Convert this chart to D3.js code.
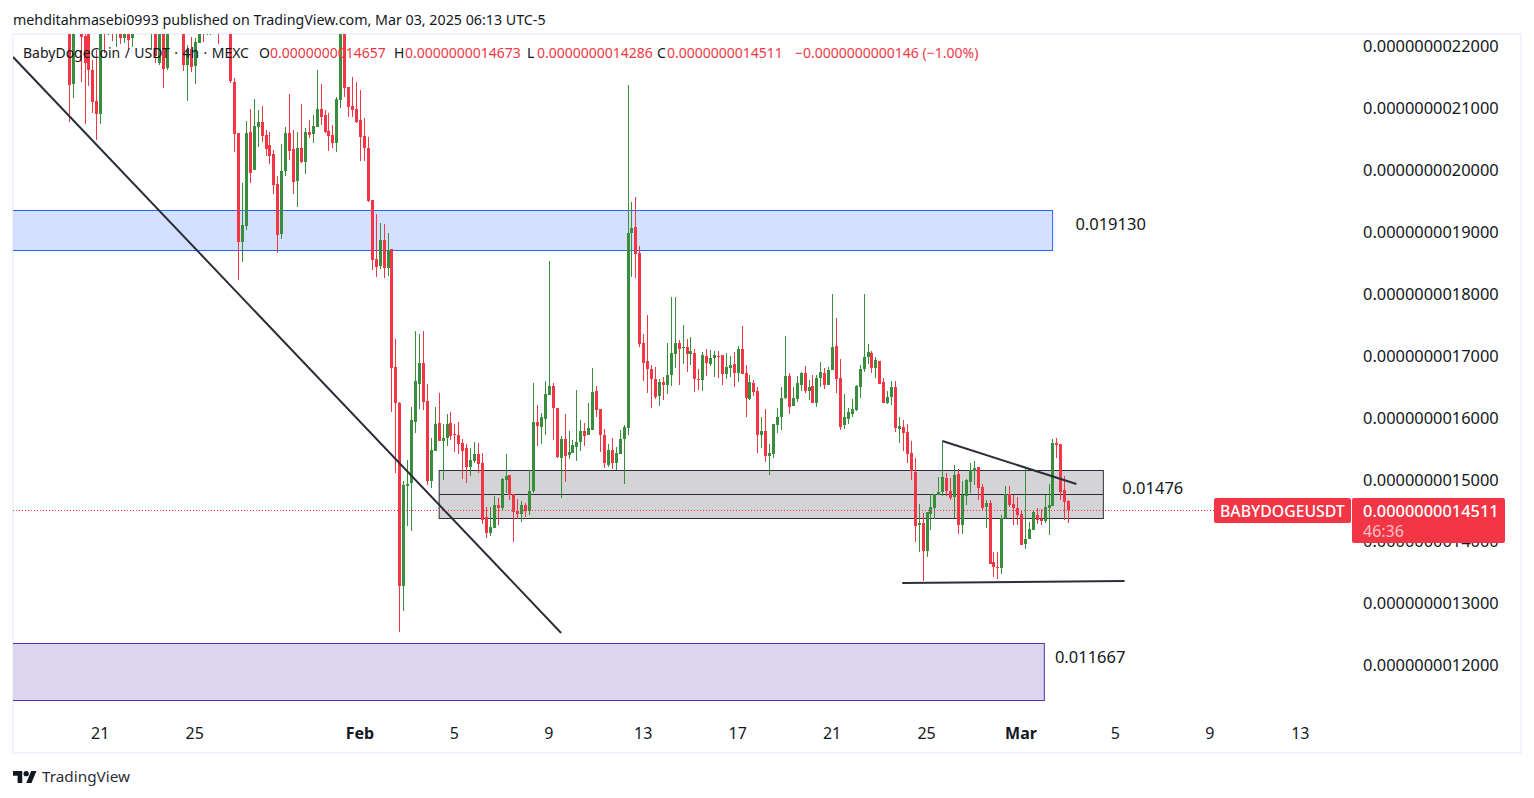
<!DOCTYPE html>
<html>
<head>
<meta charset="utf-8">
<script src="https://cdn.jsdelivr.net/npm/d3@7"></script>
<style>
   html, body { margin: 0; padding: 0; background: #ffffff; overflow: hidden; }
   svg { display: block; font-family: "Noto Sans", sans-serif; }
   .tick text { fill: #131722; }
</style>
</head>
<body>
<svg id="chart" width="1534" height="798"></svg>
<script>
// Prices are in units of 0.0000000000001 USDT, one entry per 4h candle
var opens = [
   22420,21390,22580,22420,22160,22340,21610,21110,20900,22500,
   22260,22500,22290,22340,22130,22340,22130,22340,22500,22340,
   22500,22230,22340,21730,22340,21640,22340,22500,22340,22340,
   21690,21950,21680,22050,22340,22260,22260,22420,22420,22340,
   22500,22340,21420,20590,18830,19090,20610,20000,20690,20770,
   20560,20400,20260,19770,18960,19980,20590,20340,19820,20350,
   20130,20610,20580,20690,20980,20890,20630,20560,20430,21130,
   22340,21340,21030,20980,20800,20550,20350,19510,18560,18450,
   18870,18410,18720,16810,16230,13280,14890,14940,15930,16540,
   16880,16260,14970,15460,15910,15620,15670,15910,15730,15720,
   15590,15510,15200,15300,15410,15260,14390,14130,14210,14580,
   14540,14990,15070,14760,14490,14440,14580,14490,14810,15930,
   15850,15970,16360,16510,16150,15340,15650,15390,15420,15520,
   15600,15780,15720,15800,16430,16130,15720,15230,15470,15260,
   15410,15650,15830,18980,19080,18660,17200,16910,16780,16620,
   16350,16570,16520,16690,17020,17200,17120,17140,17020,17040,
   16620,16600,16990,16860,16960,16990,17010,16700,16800,16860,
   16720,17100,16720,16300,16560,16430,15720,15780,15380,15410,
   15880,16010,16310,16670,16190,16300,16520,16720,16430,16510,
   16230,16640,16720,16520,16770,17150,16640,15880,15970,16050,
   16120,16490,16780,16980,17040,16800,16910,16570,16230,16330,
   16490,15810,15850,15760,15430,15120,14260,14290,13840,14440,
   14540,14750,14800,15020,14810,14710,15080,14260,14730,14960,
   15130,15200,14880,14550,14620,13660,13580,13560,14370,14760,
   14600,14540,14440,13960,14040,14180,14420,14360,14330,14540,
   14570,15590,15570,14830,14657
];
var highs = [
   22580,22580,22660,22580,22340,22420,21770,21940,22420,22580,
   22580,22580,22580,22500,22500,22500,22500,22580,22580,22580,
   22580,22500,22500,22500,22500,22500,22580,22580,22580,22500,
   22020,22150,22130,22420,22500,22500,22500,22500,22500,22580,
   22580,22500,21480,20590,19790,20790,20980,21140,20970,21030,
   20640,20610,20320,19900,20420,20690,21220,20640,20610,21060,
   20680,20800,20890,21610,21390,20970,20920,20720,21180,22500,
   22500,21340,21500,21420,21290,20840,20530,19510,19290,19140,
   19120,18980,18720,17270,16250,14970,15310,16170,17400,17350,
   17400,16540,15670,16170,16400,15890,16060,16090,15890,15930,
   15650,15570,15510,15600,15590,15430,14550,14550,14730,14700,
   15020,15410,15070,14760,14680,14650,14620,15150,16560,16200,
   16070,16590,18530,16560,16150,15700,16060,15780,15640,16440,
   15960,15910,16230,16800,16510,16130,15810,15570,15670,15520,
   15800,15880,21370,19480,19560,18770,17350,17650,16850,16810,
   16620,16650,17200,17940,17940,17250,17490,17270,17300,17100,
   16780,17060,17100,17090,17070,17070,17010,17040,16990,17060,
   17150,17480,16850,16690,16600,16490,16010,16130,15570,15890,
   16150,16490,17320,16720,16490,16670,16730,16830,16600,16690,
   16690,16900,16800,16810,17990,17610,16940,16380,16150,16300,
   16520,16850,17990,17190,17070,16980,16910,16640,16430,16590,
   16590,16000,15960,15890,15620,15340,14600,14460,14470,14760,
   14760,15040,15600,15100,15020,15230,15170,14970,15000,15260,
   15290,15200,14930,14670,14670,13830,13830,14420,14890,14890,
   14750,14710,14500,15180,14310,14490,14540,14520,14750,14920,
   15650,15670,15570,15050,14673
];
var lows = [
   20770,21160,22260,21420,20740,21350,20920,20480,20740,21890,
   22180,22080,21980,22030,22050,21950,21980,22260,22260,22260,
   22260,21940,21730,21690,21320,21610,22260,22260,22260,21600,
   21110,21580,21390,22050,22070,22180,22180,22230,22030,22260,
   22260,21400,20290,18220,18510,19030,19790,19990,20370,20450,
   20220,20090,19610,18660,18880,19900,20160,19610,19400,20110,
   19930,20510,20430,20690,20720,20590,20300,20350,20290,21000,
   21180,20850,20850,20760,20140,20140,19480,18380,18270,18400,
   18250,18280,16090,15100,12530,12870,14240,14170,15750,16130,
   16120,14910,14860,15460,15620,14990,15540,15630,15440,15410,
   15000,14940,15050,15260,15100,14280,14050,14080,14210,14260,
   14500,14780,14670,13990,14360,14310,14390,14420,14780,15540,
   15570,15720,16360,15630,15340,14700,14960,15330,15420,15300,
   15460,15540,15720,15800,16000,15440,15180,15200,15170,15150,
   15410,14920,15720,18270,18250,17140,16590,16390,16150,16300,
   16190,16280,16380,16510,16800,16520,16860,16730,16850,16410,
   16440,16430,16670,16830,16650,16640,16520,16620,16650,16490,
   16570,16700,16000,16280,16350,15430,15500,15280,15070,15340,
   15750,15800,16300,16060,16190,16250,16430,16390,16280,16230,
   16170,16490,16460,16520,16770,16390,15800,15810,15890,16010,
   16100,16310,16730,16860,16720,16640,16540,16230,16220,16200,
   15760,15590,15460,15260,14990,13990,13830,13360,13740,14180,
   14360,14750,14730,14730,14670,14370,14120,14120,14590,14780,
   14910,14670,14490,14210,13630,13420,13390,13470,14360,14550,
   14260,14260,13940,13880,14040,14180,14280,14260,14300,14100,
   14570,15340,14670,14340,14286
];
var closes = [
   21370,22420,22340,22150,21730,21610,21100,20900,22340,22260,
   22420,22260,22420,22130,22340,22100,22340,22500,22340,22500,
   22340,22340,21840,22340,21630,22340,22500,22340,22500,21690,
   21940,21660,22070,22340,22210,22420,22420,22260,22260,22500,
   22340,21430,20580,18830,19110,20590,19950,20710,20770,20550,
   20340,20220,19750,18950,19980,20590,20300,19800,20350,20130,
   20610,20560,20710,20980,20850,20610,20550,20430,21140,22340,
   21320,21010,20970,20770,20530,20350,19500,18540,18430,18870,
   18410,18700,16800,16230,13280,14910,14920,15960,16590,16880,
   16250,14970,15470,15890,15620,15670,15890,15700,15720,15570,
   15460,15200,15310,15410,15250,14340,14130,14230,14580,14540,
   15000,15050,14750,14470,14440,14580,14490,14810,15930,15860,
   16000,16380,16510,16150,15360,15650,15380,15440,15550,15600,
   15780,15700,15830,16410,16120,15720,15260,15470,15260,15430,
   15650,15850,18980,19060,18640,17190,16880,16780,16620,16330,
   16570,16520,16690,17040,17200,17100,17140,17020,17070,16620,
   16600,17010,16880,16960,17010,16980,16700,16810,16850,16720,
   17100,16700,16310,16570,16410,15720,15780,15380,15430,15890,
   16010,16310,16670,16170,16310,16560,16720,16430,16490,16230,
   16640,16730,16520,16770,17140,16620,15850,16000,16090,16130,
   16510,16780,16980,17060,16800,16930,16540,16230,16330,16490,
   15830,15860,15750,15410,15130,14250,14290,13840,14470,14550,
   14760,14800,15040,14810,14700,15070,14260,14750,14990,15150,
   15180,14860,14540,14620,13630,13580,13560,14370,14760,14580,
   14540,14420,13940,14040,14200,14470,14340,14330,14550,14580,
   15590,15560,14800,14630,14511
];

var priceTicks = [22000, 21000, 20000, 19000, 18000, 17000, 16000, 15000, 14000, 13000, 12000];
var timeTickIndex = [8, 32, 74, 98, 122, 146, 170, 194, 218, 242, 266, 290, 313];
var timeTickLabels = ["21", "25", "Feb", "5", "9", "13", "17", "21", "25", "Mar", "5", "9", "13"];
var boldTimeLabels = ["Feb", "Mar"];

var lastPrice = 14511;
var symbolLabel = "BABYDOGEUSDT";
var lastPriceLabel = "0.0000000014511";
var countdownLabel = "46:36";

// Drawings: [start candle, end candle, top price, bottom price]
var blueZone = [-15, 249.9, 19350, 18704];
var greyZone = [94, 262.8, 15150, 14375];
var greyZoneMid = 14770;
var purpleZone = [-15, 247.8, 12355, 11434];
// Trend lines: [start candle, start price, end candle, end price]
var trendLines = [
   [-14.3, 21822, 125, 12517],
   [221.9, 15619, 255.95, 14924],
   [211.7, 13325, 268.2, 13357]
];
var zoneLabels = ["0.019130", "0.01476", "0.011667"];
var zoneLabelPrices = [19020, 14760, 12040];
var zoneLabelCandles = [255.7, 267.6, 250.5];

var legendItems = [
   ["BabyDogeCoin / USDT · 4h · MEXC", 23, "#131722"],
   ["O", 259, "#131722"], ["0.0000000014657", 270, "#f23645"],
   ["H", 394, "#131722"], ["0.0000000014673", 405, "#f23645"],
   ["L", 527, "#131722"], ["0.0000000014286", 537, "#f23645"],
   ["C", 657, "#131722"], ["0.0000000014511", 667, "#f23645"],
   ["−0.0000000000146 (−1.00%)", 795, "#f23645"]
];

var red = "#f23645";
var green = "#388e3c";
var ink = "#131722";

var svg = d3.select("#chart");
var pane = {left: 13, right: 1351, top: 34, bottom: 753};

var xScale = d3.scaleLinear().domain([0, 254]).range([69.3, 1068.7]);
var yScale = d3.scaleLinear().domain([22000, 12000]).range([46, 665]);

function candleX(i){ return Math.floor(xScale(i)); }

// Outer frame of the chart
svg.append("rect")
   .attr("x", 13).attr("y", 34).attr("width", 1508).attr("height", 719)
   .attr("fill", "#ffffff").attr("stroke", "#f0f3fa").attr("stroke-width", 2);

svg.append("defs").append("clipPath").attr("id", "pane-clip").append("rect")
   .attr("x", pane.left).attr("y", pane.top)
   .attr("width", pane.right - pane.left).attr("height", pane.bottom - pane.top);

var plot = svg.append("g").attr("clip-path", "url(#pane-clip)");

function drawZone(zone, fill, stroke){
   plot.append("rect")
      .attr("x", xScale(zone[0]))
      .attr("y", Math.round(yScale(zone[2])) + 0.5)
      .attr("width", xScale(zone[1]) - xScale(zone[0]))
      .attr("height", Math.round(yScale(zone[3])) - Math.round(yScale(zone[2])))
      .attr("fill", fill)
      .attr("stroke", stroke);
}

drawZone(blueZone, "#d4e0ff", "#2962ff");
drawZone(greyZone, "#d4d4d6", "#2a2e39");
drawZone(purpleZone, "#dbd6ee", "#512da8");

plot.append("line")
   .attr("x1", xScale(greyZone[0])).attr("x2", xScale(greyZone[1]))
   .attr("y1", Math.round(yScale(greyZoneMid)) + 0.5).attr("y2", Math.round(yScale(greyZoneMid)) + 0.5)
   .attr("stroke", "#2a2e39");

// Candles
var candles = opens.map(function(o, i){
   return {i: i, open: o, high: highs[i], low: lows[i], close: closes[i]};
});

function candleColor(d){ return d.close >= d.open ? green : red; }

plot.selectAll("rect.wick")
   .data(candles)
   .enter()
   .append("rect")
   .attr("class", "wick")
   .attr("x", function(d){ return candleX(d.i); })
   .attr("y", function(d){ return yScale(d.high); })
   .attr("width", 1)
   .attr("height", function(d){ return yScale(d.low) - yScale(d.high); })
   .attr("fill", candleColor)
   .attr("shape-rendering", "crispEdges");

plot.selectAll("rect.body")
   .data(candles)
   .enter()
   .append("rect")
   .attr("class", "body")
   .attr("x", function(d){ return candleX(d.i) - 1; })
   .attr("y", function(d){ return yScale(Math.max(d.open, d.close)); })
   .attr("width", 3)
   .attr("height", function(d){ return Math.max(1, Math.abs(yScale(d.open) - yScale(d.close))); })
   .attr("fill", candleColor)
   .attr("shape-rendering", "crispEdges");

// Hand drawn lines
plot.selectAll("line.trend")
   .data(trendLines)
   .enter()
   .append("line")
   .attr("class", "trend")
   .attr("x1", function(d){ return xScale(d[0]); })
   .attr("y1", function(d){ return yScale(d[1]); })
   .attr("x2", function(d){ return xScale(d[2]); })
   .attr("y2", function(d){ return yScale(d[3]); })
   .attr("stroke", "#2a2e39")
   .attr("stroke-width", 2);

// Last price line
svg.append("line")
   .attr("x1", pane.left).attr("x2", 1214)
   .attr("y1", Math.round(yScale(lastPrice)) + 0.5).attr("y2", Math.round(yScale(lastPrice)) + 0.5)
   .attr("stroke", red)
   .attr("stroke-dasharray", "1 2");

// Text on the drawings
svg.selectAll("text.zone-label")
   .data(zoneLabels)
   .enter()
   .append("text")
   .attr("class", "zone-label")
   .attr("x", function(d, i){ return xScale(zoneLabelCandles[i]); })
   .attr("y", function(d, i){ return yScale(zoneLabelPrices[i]); })
   .attr("font-size", 16.5)
   .attr("fill", ink)
   .text(function(d){ return d; });

// Price axis
var yAxis = d3.axisRight(yScale)
   .tickValues(priceTicks)
   .tickSize(0)
   .tickPadding(0)
   .tickFormat(function(d){ return "0.00000000" + d; });

var yAxisG = svg.append("g")
   .attr("transform", "translate(1363,0.5)")
   .call(yAxis);
yAxisG.select(".domain").remove();
yAxisG.selectAll("text")
   .attr("font-family", "Noto Sans")
   .attr("font-size", 16.4);

// Time axis
var xAxis = d3.axisBottom(xScale)
   .tickValues(timeTickIndex)
   .tickSize(0)
   .tickPadding(0)
   .tickFormat(function(d, i){ return timeTickLabels[i]; });

var xAxisG = svg.append("g")
   .attr("transform", "translate(-1,728)")
   .call(xAxis);
xAxisG.select(".domain").remove();
xAxisG.selectAll("text")
   .attr("font-family", "Noto Sans")
   .attr("font-size", 16)
   .attr("font-weight", function(d, i){ return boldTimeLabels.indexOf(timeTickLabels[i]) >= 0 ? 700 : 400; });

// Price labels on the right
svg.append("rect")
   .attr("x", 1214).attr("y", 498).attr("width", 137).attr("height", 25).attr("rx", 2)
   .attr("fill", red);
svg.append("rect")
   .attr("x", 1352).attr("y", 498).attr("width", 153).attr("height", 45).attr("rx", 2)
   .attr("fill", red);
svg.append("text")
   .attr("x", 1220).attr("y", 516.5)
   .attr("font-size", 15.8).attr("font-weight", 500).attr("fill", "#ffffff")
   .text(symbolLabel);
svg.append("text")
   .attr("x", 1363).attr("y", 516.5)
   .attr("font-size", 16.4).attr("font-weight", 500).attr("fill", "#ffffff")
   .text(lastPriceLabel);
svg.append("text")
   .attr("x", 1363).attr("y", 536.5)
   .attr("font-size", 16).attr("fill", "#ffffff").attr("fill-opacity", 0.7)
   .text(countdownLabel);

// Legend row and publish line
svg.selectAll("text.legend")
   .data(legendItems)
   .enter()
   .append("text")
   .attr("class", "legend")
   .attr("x", function(d){ return d[1]; })
   .attr("y", 58)
   .attr("font-size", 14)
   .attr("word-spacing", function(d, i){ return i == 0 ? 0.8 : 0; })
   .attr("fill", function(d){ return d[2]; })
   .text(function(d){ return d[0]; });

svg.append("text")
   .attr("x", 13).attr("y", 24.5)
   .attr("font-size", 14.25).attr("fill", ink)
   .text("mehditahmasebi0993 published on TradingView.com, Mar 03, 2025 06:13 UTC-5");

// TradingView logo
var logo = svg.append("g").attr("transform", "translate(13,768.4) scale(0.66)").attr("fill", ink);
logo.append("path").attr("d", "M14 22H7V11H0V4h14v18zM28 22h-8l7.5-18h8L28 22z");
logo.append("circle").attr("cx", 20).attr("cy", 8).attr("r", 4);
svg.append("text")
   .attr("x", 42).attr("y", 782)
   .attr("font-size", 15.3).attr("fill", "#2a2e39")
   .text("TradingView");
</script>
</body>
</html>
